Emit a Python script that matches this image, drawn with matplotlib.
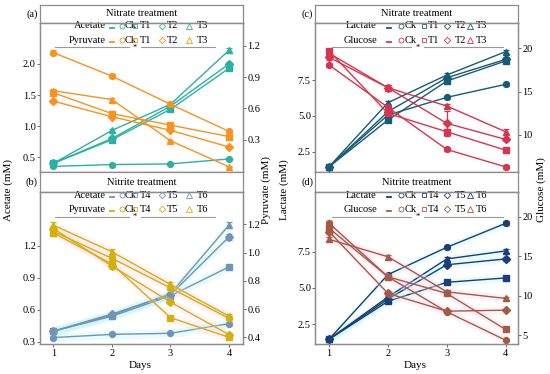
import matplotlib
matplotlib.use("Agg")
import matplotlib.pyplot as plt
import numpy as np

plt.rcParams['font.family'] = ['Liberation Serif', 'DejaVu Serif']
plt.rcParams['font.size'] = 7

days = [1, 2, 3, 4]

# Panel (a) Nitrate: acetate (left) / pyruvate (right)
a_treat = ["Ck", "T1", "T2", "T3"]
a_acetate = {
    "Ck": [0.35, 0.38, 0.39, 0.47],
    "T1": [0.40, 0.78, 1.27, 1.93],
    "T2": [0.40, 0.80, 1.32, 2.00],
    "T3": [0.40, 0.93, 1.35, 2.22],
}
a_pyruvate = {
    "Ck": [1.135, 0.91, 0.64, 0.38],
    "T1": [0.75, 0.55, 0.44, 0.33],
    "T2": [0.67, 0.52, 0.39, 0.23],
    "T3": [0.77, 0.685, 0.29, 0.04],
}

# Panel (b) Nitrite: acetate / pyruvate
b_treat = ["Ck", "T4", "T5", "T6"]
b_acetate = {
    "Ck": [0.34, 0.37, 0.38, 0.47],
    "T4": [0.40, 0.54, 0.73, 1.00],
    "T5": [0.40, 0.56, 0.74, 1.28],
    "T6": [0.40, 0.55, 0.75, 1.39],
}
b_pyruvate = {
    "Ck": [1.15, 0.96, 0.75, 0.535],
    "T4": [1.14, 0.92, 0.54, 0.40],
    "T5": [1.17, 0.905, 0.65, 0.42],
    "T6": [1.195, 1.006, 0.775, 0.55],
}

# Panel (c) Nitrate: lactate / glucose
c_treat = ["Ck", "T1", "T2", "T3"]
c_lactate = {
    "Ck": [1.45, 5.06, 6.29, 7.20],
    "T1": [1.45, 4.71, 7.43, 8.83],
    "T2": [1.45, 5.29, 7.66, 8.94],
    "T3": [1.45, 5.92, 7.85, 9.48],
}
c_glucose = {
    "Ck": [18.07, 13.19, 8.33, 6.32],
    "T1": [19.69, 12.49, 10.37, 8.25],
    "T2": [18.96, 15.45, 11.34, 9.49],
    "T3": [19.42, 15.45, 13.34, 10.37],
}
c_glucose_err = {
    "Ck": [0.2, 0.2, 0.2, 0.2],
    "T1": [0.2, 0.3, 0.2, 0.2],
    "T2": [0.3, 0.3, 1.4, 0.2],
    "T3": [0.3, 0.3, 0.2, 0.3],
}

# Panel (d) Nitrite: lactate / glucose
d_treat = ["Ck", "T4", "T5", "T6"]
d_lactate = {
    "Ck": [1.47, 5.92, 7.80, 9.45],
    "T4": [1.47, 4.08, 5.39, 5.69],
    "T5": [1.47, 4.24, 6.60, 7.00],
    "T6": [1.47, 4.38, 7.00, 7.55],
}
d_glucose = {
    "Ck": [19.16, 12.38, 7.94, 4.34],
    "T4": [18.53, 12.38, 10.27, 5.70],
    "T5": [18.10, 10.27, 8.02, 8.15],
    "T6": [17.13, 14.92, 10.47, 9.64],
}

markers = ['o', 's', 'D', '^']
msizes = [4.2, 4.2, 3.8, 4.6]
W, H = 550, 374
fig = plt.figure(figsize=(5.5, 3.74), dpi=100)

frame_col = '#8c8c8c'


def fx(px):
    return px / W


def fy(py):
    return 1 - py / H


def panel(x0, x1, y_strip, y0, y1, title, letter):
    sax = fig.add_axes([fx(x0), fy(y0), fx(x1 - x0), fy(y_strip) - fy(y0)])
    sax.set_xticks([]); sax.set_yticks([])
    for s in sax.spines.values():
        s.set_color(frame_col); s.set_linewidth(0.9)
    sax.text(0.5, 0.5, title, ha='center', va='center', fontsize=7.5)
    fig.text(fx(x0 - 8), fy((y_strip + y0) / 2), letter, ha='center', va='center', fontsize=7.5)
    ax = fig.add_axes([fx(x0), fy(y1), fx(x1 - x0), fy(y0) - fy(y1)])
    for s in ax.spines.values():
        s.set_color(frame_col); s.set_linewidth(0.9)
    ax2 = ax.twinx()
    for s in ax2.spines.values():
        s.set_color(frame_col); s.set_linewidth(0.9)
    for a in (ax, ax2):
        a.tick_params(axis='y', length=2, width=0.6, color='#555555', pad=1, labelsize=7.5)
        a.tick_params(axis='x', length=2, width=0.6, color='#555555', pad=1.5, labelsize=7.5)
    return ax, ax2


def draw(ax, data, treat, color, err=None, ribbon=None, rib_w=0.0, z=3):
    for i, t in enumerate(treat):
        y = np.array(data[t])
        e = np.array(err[t]) if err is not None else np.abs(y) * 0.015 + 0.005
        if ribbon is not None:
            ax.fill_between(days, y - rib_w, y + rib_w, color=ribbon, alpha=0.3, lw=0, zorder=1)
        ax.errorbar(days, y, yerr=e, color=color, lw=1.0, marker=markers[i], ms=msizes[i],
                    mec=color, mfc=color, capsize=2.5, elinewidth=0.9, capthick=0.9, zorder=z)


def legend(ax, name1, c1, name2, c2, treat, pos):
    lab_r, dash_x, mx, tx, rows, line_span = pos
    tr = ax.transAxes
    for (name, col), ry in zip([(name1, c1), (name2, c2)], rows):
        ax.text(lab_r, ry, name, transform=tr, ha='right', va='center', fontsize=7.5, zorder=6)
        ax.plot([dash_x - 0.01, dash_x + 0.01], [ry - 0.012, ry - 0.012], transform=tr,
                color=col, lw=1.3, zorder=6, clip_on=False)
        for i, t in enumerate(treat):
            ax.plot([mx[i]], [ry], transform=tr, marker=markers[i], ms=msizes[i] * 0.85,
                    mfc='none', mec=col, mew=0.6, zorder=6, clip_on=False)
            ax.text(tx[i], ry, t, transform=tr, ha='left', va='center', fontsize=7.5, zorder=6)
    ly = rows[1] - 0.047
    mid = (line_span[0] + line_span[1]) / 2
    ax.plot([line_span[0], mid - 0.03], [ly, ly], transform=tr, color='#999999', lw=0.8, zorder=6)
    ax.plot([mid + 0.03, line_span[1]], [ly, ly], transform=tr, color='#999999', lw=0.8, zorder=6)
    ax.text(mid, ly - 0.005, '*', transform=tr, ha='center', va='center', fontsize=6, zorder=6)


# geometry
LX0, LX1 = 40, 243
RX0, RX1 = 315, 518

left_leg = (0.325, 0.355, [0.404, 0.47, 0.60, 0.736], [0.419, 0.493, 0.626, 0.773],
            [0.98, 0.885], (0.074, 0.862))
right_leg = (0.305, 0.365, [0.424, 0.537, 0.65, 0.763], [0.44, 0.557, 0.69, 0.793],
             [0.98, 0.885], (0.084, 0.926))

# (a)
ax, ax2 = panel(LX0, LX1, 5, 23, 172, 'Nitrate treatment', '(a)')
teal, orange = '#2bb0a4', '#f7931e'
draw(ax, a_acetate, a_treat, teal)
draw(ax2, a_pyruvate, a_treat, orange)
ax.set_xlim(0.77, 4.24); ax.set_xticks([])
ax.set_ylim(0.26, 2.66); ax.set_yticks([0.5, 1.0, 1.5, 2.0])
ax2.set_ylim(-0.01, 1.42); ax2.set_yticks([0.3, 0.6, 0.9, 1.2])
legend(ax, 'Acetate', teal, 'Pyruvate', orange, a_treat, left_leg)

# (b)
ax, ax2 = panel(LX0, LX1, 172, 192, 344, 'Nitrite treatment', '(b)')
steel, gold = '#6f94b5', '#d4b00c'
draw(ax, b_acetate, b_treat, steel, ribbon='#b8f5f5', rib_w=0.04)
draw(ax2, b_pyruvate, b_treat, gold, ribbon='#ffd6e8', rib_w=0.03)
ax.set_xlim(0.77, 4.24); ax.set_xticks(days)
ax.set_ylim(0.28, 1.70); ax.set_yticks([0.3, 0.6, 0.9, 1.2])
ax2.set_ylim(0.353, 1.43); ax2.set_yticks([0.4, 0.6, 0.8, 1.0, 1.2])
legend(ax, 'Acetate', steel, 'Pyruvate', gold, b_treat, left_leg)

# (c)
ax, ax2 = panel(RX0, RX1, 5, 23, 172, 'Nitrate treatment', '(c)')
dteal, crimson = '#165c74', '#d9344e'
draw(ax, c_lactate, c_treat, dteal)
draw(ax2, c_glucose, c_treat, crimson, err=c_glucose_err)
ax.set_xlim(0.76, 4.21); ax.set_xticks([])
ax.set_ylim(1.08, 11.48); ax.set_yticks([2.5, 5.0, 7.5])
ax2.set_ylim(5.73, 22.92); ax2.set_yticks([10, 15, 20])
legend(ax, 'Lactate', dteal, 'Glucose', crimson, c_treat, right_leg)

# (d)
ax, ax2 = panel(RX0, RX1, 172, 192, 344, 'Nitrite treatment', '(d)')
navy, brown = '#1b3d78', '#a55a45'
draw(ax, d_lactate, d_treat, navy, ribbon='#b8f5f5', rib_w=0.25)
draw(ax2, d_glucose, d_treat, brown, ribbon='#ffd6e8', rib_w=0.5)
ax.set_xlim(0.76, 4.21); ax.set_xticks(days)
ax.set_ylim(1.14, 11.61); ax.set_yticks([2.5, 5.0, 7.5])
ax2.set_ylim(3.86, 23.13); ax2.set_yticks([5, 10, 15, 20])
legend(ax, 'Lactate', navy, 'Glucose', brown, d_treat, right_leg)

# shared axis labels
fig.text(fx(8), fy(190), 'Acetate (mM)', rotation=90, ha='center', va='center', fontsize=8)
fig.text(fx(266), fy(190), 'Pyruvate (mM)', rotation=90, ha='center', va='center', fontsize=8)
fig.text(fx(284), fy(190), 'Lactate (mM)', rotation=90, ha='center', va='center', fontsize=8)
fig.text(fx(541), fy(190), 'Glucose (mM)', rotation=90, ha='center', va='center', fontsize=8)
fig.text(fx(140), fy(365), 'Days', ha='center', va='center', fontsize=8)
fig.text(fx(415), fy(365), 'Days', ha='center', va='center', fontsize=8)

fig.savefig('out.png', dpi=100)
